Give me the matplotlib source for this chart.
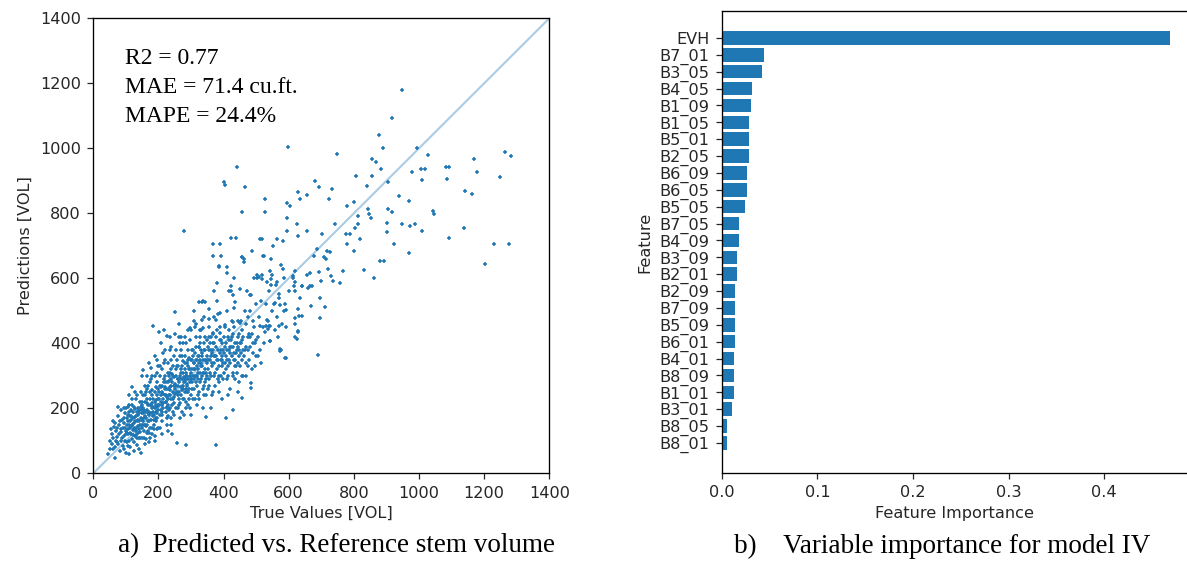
import matplotlib
matplotlib.use("Agg")
import matplotlib.pyplot as plt
import numpy as np

# ---------------- data: panel a (True vs Predicted stem volume) ----------------
points = [
 (45,58),(52,75),(58,90),(62,110),(66,48),(70,130),(72,95),(75,205),(78,150),(80,120),(82,70),(85,100),(88,165),(90,140),(92,85),(95,115),(98,185),(100,62),(100,130),(55,135),(60,160),(68,80),(76,175),(84,195),(94,155),(50,100),(64,142),(86,128),(96,98),(74,112),
 (102,150),(104,95),(106,180),(108,120),(110,210),(112,140),(114,80),(116,165),(118,230),(120,105),(122,190),(124,135),(126,155),(128,250),(130,118),(132,175),(134,88),(136,200),(138,145),(140,160),(142,220),(144,128),(146,64),(148,185),(150,300),(103,170),(107,135),(111,100),(115,195),(119,150),(123,118),(127,172),(131,140),(135,110),(139,185),(143,150),(147,205),(113,160),(121,132),(129,198),(137,125),(145,170),(149,140),(125,95),(133,160),(141,108),(105,205),(117,175),(109,150),(152,318),
 (152,160),(154,200),(156,130),(158,240),(160,175),(162,105),(164,215),(166,150),(168,270),(170,190),(172,125),(174,230),(176,165),(178,290),(180,140),(182,453),(184,205),(186,180),(188,250),(190,115),(192,225),(194,160),(196,310),(198,195),(200,140),(153,185),(157,170),(161,145),(165,195),(169,160),(173,210),(177,185),(181,240),(185,150),(189,200),(193,265),(197,170),(159,220),(167,130),(175,250),(183,175),(191,190),(199,230),(155,110),(163,250),(171,95),(179,215),(187,135),(195,205),(201,436),(170,340),(188,360),(196,280),(164,300),(178,325),
 (202,250),(204,180),(206,300),(208,220),(210,160),(212,270),(214,200),(216,340),(218,441),(220,240),(222,190),(224,280),(226,150),(228,310),(230,230),(232,260),(234,380),(236,200),(238,290),(240,170),(242,121),(244,250),(246,330),(248,215),(250,275),(203,210),(207,265),(211,190),(215,245),(219,300),(223,220),(227,260),(231,195),(235,240),(239,320),(243,280),(247,235),(205,140),(213,230),(221,350),(229,175),(237,265),(245,300),(209,400),(217,280),(225,235),(233,300),(241,210),(249,360),(212,320),(226,205),(240,350),(248,180),(227,423),
 (252,495),(254,300),(256,92),(258,250),(260,330),(262,210),(264,280),(266,360),(268,240),(270,310),(272,190),(274,270),(276,400),(278,230),(280,290),(282,340),(284,260),(285,87),(286,220),(288,300),(290,380),(292,250),(294,320),(296,280),(298,200),(300,350),(253,270),(257,350),(261,240),(265,300),(269,265),(273,330),(277,280),(281,250),(285,310),(289,270),(293,230),(297,300),(255,200),(263,420),(271,360),(279,180),(287,340),(295,260),(259,290),(267,215),(275,310),(283,285),(291,330),(299,240),(262,460),(277,747),(301,290),(268,380),(280,420),(296,410),
 (302,320),(304,260),(306,380),(308,290),(310,340),(312,230),(314,300),(316,420),(318,270),(320,360),(322,310),(324,250),(325,528),(326,390),(328,280),(330,330),(332,440),(334,300),(336,200),(338,350),(340,270),(342,380),(344,320),(345,174),(346,290),(348,410),(350,340),(303,350),(307,300),(311,370),(315,280),(319,330),(323,390),(327,350),(331,290),(335,370),(339,310),(343,280),(347,350),(305,230),(313,450),(321,290),(329,400),(337,260),(341,480),(349,300),(309,320),(317,350),(333,360),(335,528),(318,210),(345,240),(310,470),
 (352,320),(354,380),(356,290),(358,350),(360,420),(362,300),(364,370),(366,250),(368,705),(370,340),(372,400),(374,310),(376,87),(378,360),(380,530),(382,290),(384,380),(386,330),(388,705),(390,450),(392,300),(394,360),(396,400),(398,340),(400,895),(353,260),(357,400),(361,360),(365,330),(369,380),(373,270),(377,420),(381,350),(385,300),(389,370),(393,410),(397,290),(355,450),(363,240),(371,480),(379,320),(387,250),(395,330),(399,380),(359,310),(367,430),(375,360),(383,490),(391,350),(372,560),(385,635),(396,230),(362,200),
 (402,370),(404,888),(406,320),(407,169),(408,400),(410,350),(412,617),(414,300),(416,380),(418,440),(420,340),(422,410),(424,725),(426,360),(428,300),(429,195),(430,390),(432,450),(434,330),(436,400),(438,370),(439,725),(440,943),(442,310),(444,420),(446,360),(448,280),(450,400),(403,340),(409,290),(413,420),(417,350),(421,390),(425,470),(431,350),(435,290),(441,380),(445,470),(449,330),(411,500),(419,260),(427,420),(433,510),(437,330),(443,250),(447,380),(415,240),(423,560),(405,450),(432,600),(418,560),
 (452,400),(455,805),(455,231),(458,350),(460,420),(462,650),(465,380),(468,460),(470,300),(472,560),(475,420),(478,350),(480,500),(482,390),(485,262),(485,277),(486,685),(488,430),(490,370),(492,600),(494,450),(496,330),(498,520),(500,410),(453,470),(457,300),(461,380),(465,880),(466,500),(470,340),(474,480),(479,430),(483,550),(487,320),(491,470),(495,400),(499,360),(456,665),(463,659),
 (503,600),(508,605),(511,720),(517,720),(518,598),(505,420),(510,480),(512,380),(515,530),(520,450),(521,669),(525,400),(527,843),(527,805),(529,453),(530,520),(535,470),(537,445),(540,560),(542,453),(542,408),(545,598),(547,659),(550,500),(552,700),(555,520),(558,440),(560,580),(563,720),(565,480),(570,540),(574,383),(577,380),(580,460),(582,715),(585,600),(588,354),(590,520),(595,787),(595,746),(596,833),(598,1005),(600,560),(505,360),(515,340),(533,590),(548,610),(568,420),(585,500),(592,450),(575,640),(612,608),(620,590),
 (603,821),(612,600),(618,459),(619,418),(620,560),(626,766),(628,865),(629,730),(629,438),(630,484),(634,843),(636,540),(640,575),(641,484),(655,855),(655,746),(660,570),(666,577),(667,516),(671,576),(678,669),(680,900),(686,690),(690,364),(694,618),(694,880),(696,538),(696,477),(698,592),(702,737),(708,665),(710,511),(715,659),(716,685),(720,628),(725,843),(727,680),(731,608),(732,875),(736,592),(741,766),(747,983),(757,587),(768,624),(777,737),(779,705),(779,822),(787,737),(800,836),(800,685),(804,756),(805,916),
 (812,766),(814,791),(819,720),(831,626),(840,885),(842,812),(845,797),(852,786),(855,916),(857,968),(861,602),(867,958),(876,1040),(881,654),(882,937),(890,1000),(893,654),(902,771),(903,741),(906,895),(906,812),(916,1093),(916,803),(922,705),(939,854),(947,1180),(947,766),(969,839),(969,679),(973,761),(977,926),(987,766),(993,1000),(1005,937),(1010,901),(1010,746),(1018,937),(1028,978),(1042,807),(1046,798),(1084,943),(1086,906),(1091,943),(1091,725),(1137,756),(1141,870),(1164,860),(1169,968),(1179,926),(1204,643),(1230,705),(1250,911),(1265,990),(1276,705),(1281,975),
 (368,670),(391,670),(455,665),(524,670),(387,639),(412,635),(381,587),(423,575),(450,567),(430,549),(435,526),(336,529),(343,526),(310,500),(356,505),(389,493),(481,549),(503,611),(519,611),(544,621),(547,580),(565,590),(581,628),(619,621),(655,611),(665,616),(617,577),(640,575),(571,551),(558,524),(573,519),(591,503),(629,505),(619,477),(534,472),(540,454),(512,452),(571,454),(629,436),(624,413),(591,354),(573,375),(527,436),(542,406),(333,472),(356,474),(377,472),(297,447),(327,442),(338,447),(368,433),(389,433),(404,457),(430,467),(450,462),(458,441),
 (101,120),(105,160),(109,190),(113,125),(117,145),(121,170),(125,140),(129,115),(133,190),(137,165),(141,135),(145,195),(149,165),(151,220),(155,150),(159,190),(163,170),(167,210),(171,180),(175,140),(179,200),(183,230),(187,165),(191,210),(195,185),(199,260),(203,230),(207,195),(211,250),(215,215),(219,265),(223,240),(227,200),(231,285),(235,255),(239,230),(243,305),(247,270),(251,245),(255,320),(259,270),(263,230),(267,290),(271,255),(275,345),(279,295),(283,320),(287,250),(291,290),(295,355),(299,310),(303,280),(307,360),(311,320),(315,390),(319,300),(323,340),(327,310),(331,380),(335,330),(339,400),(343,350),(347,310),(351,390),(240,390),(255,380),(270,420),(285,400),(300,440),(315,460),(290,440),(230,340),(215,370),(200,330),(190,300),(175,280),(160,270),(145,250),(130,230),(120,265),(285,200),(300,180),(320,240),(265,170),(230,130),(210,120),(190,100),(175,110),(160,90),(140,75),(125,70),(110,60),(95,75),
 (58,120),(62,75),(66,155),(70,100),(73,140),(77,90),(81,160),(85,135),(89,110),(93,170),(97,140),(99,200),(104,125),(108,85),(112,175),(116,120),(120,150),(124,205),(128,160),(132,130),(136,180),(140,195),(144,110),(148,150),(152,240),(156,195),(160,150),(164,230),(168,185),(172,160),(176,210),(180,255),(184,190),(188,220),(192,170),(196,240),(200,210),(204,270),(208,240),(212,210),(216,290),(220,260),(224,220),(228,280),(232,240),(236,310),(240,270),(244,230),(248,295),(252,260),(256,330),(260,290),(264,250),(268,320),(272,290),(276,260),(280,360),(284,300),(288,275),(292,350),(296,320),(300,290),(304,380),(308,340),(312,300),(316,350),(320,320),(324,360),(328,420),(332,340),(336,310),(340,380),(344,420),(348,360),(352,350),(356,420),(360,380),(364,340),(368,400),(372,360),(376,390),(380,440),(384,350),(388,410),(392,380),(396,350),(400,420),(404,390),(408,360),(412,380),(416,410),(420,370),(424,390),(428,430),(432,370),(436,350),(440,400),(444,390),(448,430),(452,370),(458,410),(464,360),(470,390),(476,380),(482,420),(490,400),(260,200),(245,190),(230,210),(275,230),(290,210),(310,260),(325,230),(340,240),(355,270),(370,300),(385,280),(400,310),(415,330),(430,310),(445,340),(460,300),(475,330),(150,110),(165,125),(180,120),(195,135),(210,180),(225,170),(240,150),(205,330),(220,380),(235,420),(250,430),(265,400),(180,300),(195,350),(165,260),(150,210),(135,240),(120,210),(110,240),(95,200),
]
true_values = [p[0] for p in points]
predictions = [p[1] for p in points]
axis_ticks_a = [0, 200, 400, 600, 800, 1000, 1200, 1400]
metrics_text = ["R2 = 0.77", "MAE = 71.4 cu.ft.", "MAPE = 24.4%"]

# ---------------- data: panel b (feature importance) ----------------
features = ["EVH", "B7_01", "B3_05", "B4_05", "B1_09", "B1_05", "B5_01", "B2_05",
            "B6_09", "B6_05", "B5_05", "B7_05", "B4_09", "B3_09", "B2_01", "B2_09",
            "B7_09", "B5_09", "B6_01", "B4_01", "B8_09", "B1_01", "B3_01", "B8_05", "B8_01"]
importances = [0.469, 0.0442, 0.0424, 0.0320, 0.0303, 0.0285, 0.0285, 0.0285,
               0.0265, 0.0265, 0.0247, 0.0178, 0.0178, 0.0160, 0.0160, 0.0142,
               0.0142, 0.0142, 0.0142, 0.0125, 0.0125, 0.0125, 0.0108, 0.0055, 0.0055]
axis_ticks_b = [0.0, 0.1, 0.2, 0.3, 0.4]

captions = ["a)  Predicted vs. Reference stem volume", "b)    Variable importance for model IV"]

# ---------------- figure ----------------
W, H = 1187, 563
fig = plt.figure(figsize=(W / 100, H / 100), dpi=100)
plt.rcParams['font.family'] = ['DejaVu Sans']
tick_color = '#262626'
blue = '#1f77b4'
FS = 11.6
tick_kw = dict(labelsize=FS, colors=tick_color, length=4.2, width=0.9, pad=4.6)

# panel a
axa = fig.add_axes([93.3 / W, (H - 473.3) / H, (549.3 - 93.3) / W, (473.3 - 18.3) / H])
axa.plot([0, 1400], [0, 1400], color='#a9cbe3', lw=1.5, zorder=1)
axa.scatter(true_values, predictions, marker='+', s=12, linewidths=1.1, color=blue, zorder=2)
axa.set_xlim(0, 1400)
axa.set_ylim(0, 1400)
axa.set_xticks(axis_ticks_a)
axa.set_yticks(axis_ticks_a)
axa.tick_params(**tick_kw)
for s in axa.spines.values():
    s.set_linewidth(0.95)
axa.set_xlabel("True Values [VOL]", fontsize=FS, color=tick_color, labelpad=4)
axa.set_ylabel("Predictions [VOL]", fontsize=FS, color=tick_color, labelpad=5)
for i, t in enumerate(metrics_text):
    axa.text(97, 1275 - i * 89, t, fontsize=17, family='Liberation Serif',
             va='center', ha='left', color='black')

# panel b
axb = fig.add_axes([721.7 / W, (H - 473) / H, (W - 721.7) / W, (473 - 11) / H])
n = len(features)
ypos = np.arange(n)[::-1]
axb.barh(ypos, importances, height=0.8, color=blue)
axb.set_yticks(ypos)
axb.set_yticklabels(features)
axb.set_ylim(-1.78, n - 1 + 1.6)
axb.set_xlim(0, (W - 721.7) / 956.5)
axb.set_xticks(axis_ticks_b)
axb.tick_params(**tick_kw)
for s in axb.spines.values():
    s.set_linewidth(0.95)
axb.spines['right'].set_visible(False)
axb.set_xlabel("Feature Importance", fontsize=FS, color=tick_color, labelpad=4)
axb.set_ylabel("Feature", fontsize=FS, color=tick_color, labelpad=5)

# captions
fig.text(336 / W, 1 - 546 / H, captions[0], fontsize=19.5, family='Liberation Serif',
         ha='center', va='center')
fig.text(942 / W, 1 - 546 / H, captions[1], fontsize=19.5, family='Liberation Serif',
         ha='center', va='center')

fig.savefig("out.png", dpi=100)
